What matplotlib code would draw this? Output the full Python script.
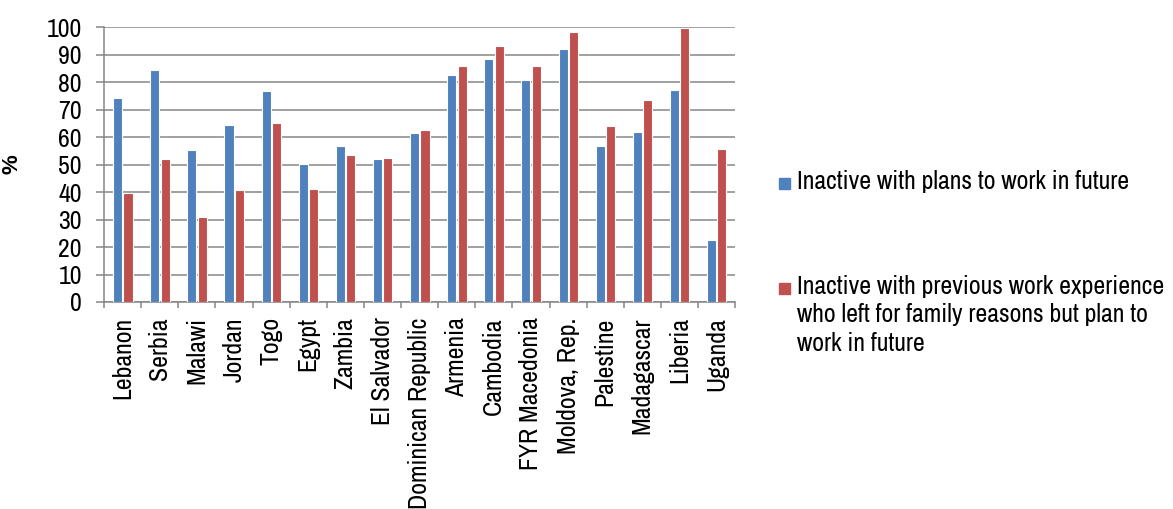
import numpy as np
import matplotlib
matplotlib.use('Agg')
import matplotlib.pyplot as plt
from matplotlib.patches import Rectangle

plt.rcParams['font.family'] = ['Archivo Narrow', 'Liberation Sans', 'DejaVu Sans']

countries = ['Lebanon', 'Serbia', 'Malawi', 'Jordan', 'Togo', 'Egypt', 'Zambia',
             'El Salvador', 'Dominican Republic', 'Armenia', 'Cambodia',
             'FYR Macedonia', 'Moldova, Rep.', 'Palestine', 'Madagascar',
             'Liberia', 'Uganda']
plans = [74.2, 84.5, 55.4, 64.3, 76.7, 50.3, 56.6, 52.1, 61.4, 82.5, 88.5,
         80.8, 92.1, 56.9, 62.0, 77.1, 22.5]
family = [39.8, 51.9, 30.9, 40.8, 65.3, 41.0, 53.6, 52.4, 62.5, 86.0, 93.2,
          85.7, 98.2, 63.9, 73.4, 99.8, 55.7]
yticks = list(range(0, 101, 10))
label_plans = 'Inactive with plans to work in future'
label_family = ('Inactive with previous work experience\n'
                'who left for family reasons but plan to\nwork in future')

blue = '#4F81BD'
red = '#C0504D'
grey = '#868686'
fs = 18.6

fig = plt.figure(figsize=(11.73, 5.09), dpi=100)
ax = fig.add_axes([0.0887, 0.4067, 0.538, 0.540])

x = np.arange(len(countries))
w = 0.245
ax.bar(x - 0.135, plans, w, color=blue, edgecolor='white', linewidth=0.8, zorder=3)
ax.bar(x + 0.145, family, w, color=red, edgecolor='white', linewidth=0.8, zorder=3)

ax.set_xlim(-0.5, len(countries) - 0.5)
ax.set_ylim(0, 100)
ax.set_yticks(yticks)
ax.set_yticklabels([str(v) for v in yticks], fontsize=fs)
ax.yaxis.grid(True, color=grey, linewidth=1.1, zorder=0)
ax.set_axisbelow(True)

ax.set_xticks(x)
ax.set_xticklabels(countries, rotation=90, fontsize=fs, va='top')
ax.set_xticks(np.arange(-0.5, len(countries)), minor=True)
ax.tick_params(axis='x', which='major', length=0, pad=11)
ax.tick_params(axis='x', which='minor', length=4.5, width=1.1, color=grey)
ax.tick_params(axis='y', length=6, width=1.1, color=grey, pad=10)

for s in ['top', 'right']:
    ax.spines[s].set_visible(False)
for s in ['left', 'bottom']:
    ax.spines[s].set_color(grey)
    ax.spines[s].set_linewidth(1.1)

ax.set_ylabel('%', fontsize=16, fontweight='bold', family=['Liberation Sans'])
ax.yaxis.set_label_coords(-0.13, 0.5)

# legend drawn by hand so the swatch sits on the first line of the wrapped label
W, H = fig.get_size_inches() * fig.dpi
for (py, col, txt) in [(183, blue, label_plans), (288, red, label_family)]:
    fig.patches.append(Rectangle((779 / W, 1 - (py + 5.5) / H), 11 / W, 11 / H,
                                 transform=fig.transFigure, color=col))
    fig.text(797 / W, 1 - (py - 13) / H, txt, fontsize=fs, va='top', ha='left',
             linespacing=1.28)

fig.savefig('out.png', dpi=100)
